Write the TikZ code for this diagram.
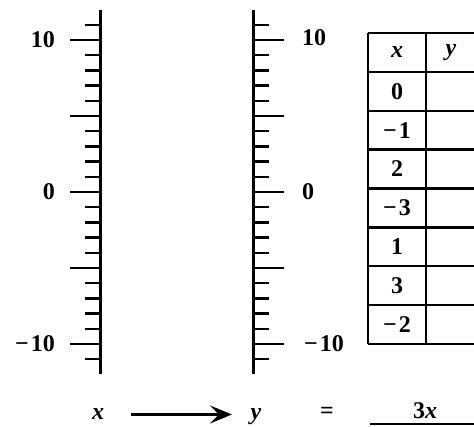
\documentclass[tikz,border=0pt]{standalone}
\usepackage{fontspec}
\setmainfont{Liberation Serif}
\usetikzlibrary{arrows.meta}

\newcommand{\mn}{−\kern2pt}

\tikzset{
  axisline/.style={line width=3pt},
  minortick/.style={line width=2.4pt},
  majortick/.style={line width=2.4pt},
  cellline/.style={line width=2.4pt},
  lbl/.style={font=\fontsize{24}{28}\selectfont\bfseries, inner sep=0pt},
  var/.style={font=\fontsize{24}{28}\selectfont\bfseries\itshape, inner sep=0pt},
}

\begin{document}
\begin{tikzpicture}[x=1pt,y=1pt]
    \useasboundingbox (0,0) rectangle (474,427);
    \clip (0,0) rectangle (474,427);
    % number line for x
    \draw[axisline] (100,52.6) -- (100,417.4);
    \foreach \i in {-11,...,11}
        \draw[minortick] (85,{235+15.2*\i}) -- (100,{235+15.2*\i});
    \foreach \i in {-10,-5,0,5,10}
        \draw[majortick] (70,{235+15.2*\i}) -- (100,{235+15.2*\i});
    \node[lbl, anchor=east] (xten) at (55,387) {10};
    \node[lbl, anchor=east] (xzero) at (55,235) {0};
    \node[lbl, anchor=east] (xmten) at (55,83) {\mn10};
    % number line for y
    \draw[axisline] (253,52.6) -- (253,417.4);
    \foreach \i in {-11,...,11}
        \draw[minortick] (253,{235+15.2*\i}) -- (269,{235+15.2*\i});
    \foreach \i in {-10,-5,0,5,10}
        \draw[majortick] (253,{235+15.2*\i}) -- (284,{235+15.2*\i});
    \node[lbl, anchor=west] (yten) at (302,389) {10};
    \node[lbl, anchor=west] (yzero) at (302,235) {0};
    \node[lbl, anchor=west] (ymten) at (304,83) {\mn10};
    % table
    \foreach \j in {0,...,8}
        \draw[cellline] (368,{394-38.875*\j}) -- (478,{394-38.875*\j});
    \draw[cellline] (368,394) -- (368,83);
    \draw[cellline] (426,394) -- (426,83);
    \node[var] (hx) at (397,374.6) {x};
    \node[var] (hy) at (451,374.6) {y};
    \foreach \v [count=\k] in {0,\mn1,2,\mn3,1,3,\mn2}
        \node[lbl] (row\k) at (397,{394-38.875*(\k+0.5)}) {\v};
    % rule
    \node[var, anchor=base] (xin) at (98,7) {x};
    \node[var, anchor=base] (yout) at (256,7) {y};
    \node[lbl] (eq) at (327,14) {=};
    \node[lbl, anchor=base] (rule) at (425,8) {3\textit{x}};
    \draw[line width=2.4pt, -{Stealth[length=22pt,width=18pt,inset=9pt]}, shorten <=33pt, shorten >=24pt]
        (xin.center) -- (yout.center |- xin.center);
    \draw[line width=2.4pt] (370,3) -- (478,3);
\end{tikzpicture}
\end{document}
